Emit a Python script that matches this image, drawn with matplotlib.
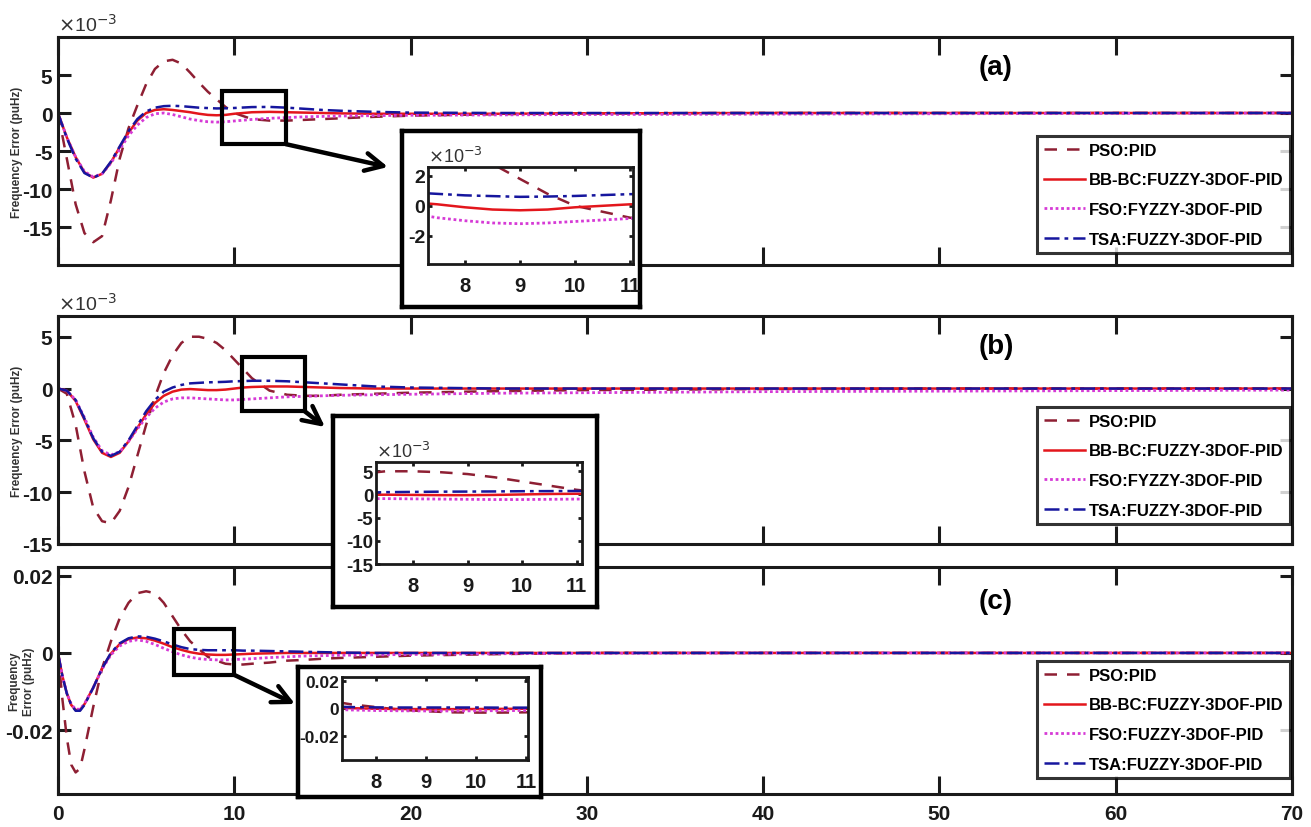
import numpy as np
import matplotlib
matplotlib.use('Agg')
import matplotlib.pyplot as plt
from matplotlib.patches import Rectangle

W, H = 1311, 828

# ---------------- data ----------------
t_a = [0, 0.5, 1, 1.5, 2, 2.5, 3, 3.5, 4, 4.5, 5, 5.5, 6, 6.5, 7, 7.5, 8, 8.5, 9, 9.5,
       10, 10.5, 11, 12, 13, 14, 15, 16, 18, 20, 25, 30, 40, 50, 60, 70]
pso_a = [0, -6, -12, -15.8, -17, -16.2, -11.5, -6, -2, 1, 3.8, 5.8, 6.8, 7, 6.5, 5.3, 4, 2.8, 1.8, 0.8,
         0, -0.4, -0.8, -1, -1, -0.9, -0.8, -0.7, -0.5, -0.35, -0.15, -0.05, 0, 0, 0, 0]
bbbc_a = [0, -3.2, -5.8, -7.8, -8.5, -8, -6.5, -4.5, -2.6, -1, 0, 0.4, 0.5, 0.4, 0.25, 0.1, -0.1, -0.25, -0.3, -0.25,
          -0.1, 0, 0.1, 0.15, 0.1, 0.05, 0, -0.05, -0.1, -0.1, -0.1, -0.05, 0, 0, 0, 0]
fso_a = [0, -3.2, -5.8, -7.7, -8.4, -8, -6.6, -4.8, -3, -1.6, -0.6, -0.1, 0, -0.2, -0.5, -0.8, -1, -1.15, -1.2, -1.15,
         -1.05, -0.95, -0.85, -0.7, -0.6, -0.5, -0.45, -0.4, -0.35, -0.3, -0.25, -0.2, -0.15, -0.1, -0.05, 0]
tsa_a = [0, -3.3, -6, -7.9, -8.5, -8, -6.4, -4.4, -2.4, -0.8, 0.2, 0.7, 0.9, 0.95, 0.9, 0.8, 0.7, 0.65, 0.6, 0.62,
         0.66, 0.72, 0.78, 0.8, 0.7, 0.55, 0.4, 0.3, 0.15, 0.05, 0, 0, 0, 0, 0, 0]

t_b = t_a
pso_b = [0, -0.5, -3.5, -8, -11.5, -12.8, -13, -11.8, -9.5, -6.5, -3.5, -0.8, 1.5, 3.2, 4.4, 5, 5, 4.8, 4.4, 3.7,
         2.8, 1.9, 1, -0.2, -0.6, -0.7, -0.7, -0.6, -0.5, -0.4, -0.25, -0.15, -0.05, 0, 0, 0]
bbbc_b = [0, -0.2, -1.2, -3, -4.9, -6.2, -6.6, -6.2, -5.1, -3.8, -2.5, -1.4, -0.7, -0.3, -0.1, -0.05, -0.1, -0.15, -0.15, -0.1,
          0, 0.1, 0.15, 0.2, 0.2, 0.15, 0.1, 0.05, 0, 0, 0, 0, 0, 0, 0, 0]
fso_b = [0, -0.2, -1.1, -2.8, -4.7, -6, -6.4, -6.1, -5.1, -3.9, -2.8, -1.9, -1.3, -1, -0.9, -0.9, -0.95, -1, -1.05, -1.1,
         -1.1, -1.05, -1, -0.9, -0.8, -0.75, -0.7, -0.65, -0.6, -0.55, -0.45, -0.4, -0.3, -0.25, -0.2, -0.15]
tsa_b = [0, -0.2, -1.1, -2.9, -4.8, -6.1, -6.5, -6.1, -5, -3.6, -2.2, -1.1, -0.3, 0.1, 0.35, 0.5, 0.55, 0.6, 0.62, 0.65,
         0.7, 0.72, 0.75, 0.75, 0.7, 0.6, 0.5, 0.4, 0.2, 0.1, 0, 0, 0, 0, 0, 0]

t_c = [0, 0.25, 0.5, 0.75, 1, 1.25, 1.5, 2, 2.5, 3, 3.5, 4, 4.5, 5, 5.5, 6, 6.5, 7, 7.5, 8, 8.5, 9, 9.5,
       10, 10.5, 11, 12, 13, 14, 15, 16, 18, 20, 25, 30, 40, 50, 60, 70]
pso_c = [0, -0.012, -0.022, -0.029, -0.031, -0.030, -0.025, -0.014, -0.004, 0.003, 0.009, 0.013, 0.0155, 0.016,
         0.0155, 0.013, 0.0095, 0.006, 0.003, 0.001, -0.001, -0.002, -0.0028, -0.003, -0.003, -0.0028, -0.0025,
         -0.002, -0.0018, -0.0015, -0.0013, -0.001, -0.0007, -0.0003, 0, 0, 0, 0, 0]
bbbc_c = [0, -0.006, -0.0105, -0.0135, -0.0148, -0.0148, -0.0133, -0.009, -0.004, -0.0002, 0.0023, 0.0036, 0.004,
          0.0038, 0.0032, 0.0024, 0.0015, 0.0008, 0.0002, -0.0002, -0.0004, -0.0005, -0.0005, -0.0004, -0.0003,
          -0.0002, -0.0001, 0, 0, 0, 0, 0, 0, 0, 0, 0, 0, 0, 0]
fso_c = [0, -0.006, -0.0104, -0.0133, -0.0146, -0.0146, -0.0132, -0.009, -0.0042, -0.0005, 0.0018, 0.003, 0.0034,
         0.003, 0.0022, 0.0012, 0.0003, -0.0005, -0.0011, -0.0015, -0.0017, -0.0018, -0.0018, -0.0017, -0.0016,
         -0.0015, -0.0012, -0.001, -0.0008, -0.0007, -0.0006, -0.0005, -0.0004, -0.0002, -0.0001, 0, 0, 0, 0]
tsa_c = [0, -0.006, -0.0105, -0.0135, -0.015, -0.015, -0.0135, -0.009, -0.004, 0, 0.0025, 0.0038, 0.0043, 0.0042,
         0.0037, 0.003, 0.0022, 0.0015, 0.001, 0.0008, 0.0007, 0.0007, 0.0007, 0.0007, 0.0006, 0.0006, 0.0005,
         0.0004, 0.0003, 0.0002, 0.0001, 0, 0, 0, 0, 0, 0, 0, 0]

labels_ab = ["PSO:PID", "BB-BC:FUZZY-3DOF-PID", "FSO:FYZZY-3DOF-PID", "TSA:FUZZY-3DOF-PID"]
labels_c = ["PSO:PID", "BB-BC:FUZZY-3DOF-PID", "FSO:FUZZY-3DOF-PID", "TSA:FUZZY-3DOF-PID"]
xticks_main = [0, 10, 20, 30, 40, 50, 60, 70]
yticks_ab = [-15, -10, -5, 0, 5]
yticks_c = [-0.02, 0, 0.02]
inset_xticks = [8, 9, 10, 11]

# ---------------- styles ----------------
NARROW = ['Liberation Sans Narrow', 'Liberation Sans', 'DejaVu Sans']
plt.rcParams['font.family'] = NARROW
styles = [
    dict(color='#8e1f33', ls=(0, (5, 4)), lw=1.8),
    dict(color='#e3161c', ls='-', lw=1.8),
    dict(color='#d63ad6', ls=(0, (1, 1)), lw=2.0),
    dict(color='#16169e', ls=(0, (6, 2, 1.5, 2)), lw=1.8),
]


def frect(l, t, r, b):
    return [l / W, 1 - b / H, (r - l) / W, (b - t) / H]


fig = plt.figure(figsize=(W / 100, H / 100), dpi=100)


def style_axes(ax, xlen=13, ylen=9, lw=2.2, fs=15, yfs=None):
    for s in ax.spines.values():
        s.set_linewidth(lw)
        s.set_color('#1a1a1a')
    ax.tick_params(axis='x', direction='in', top=True, bottom=True, length=xlen, width=lw, labelsize=fs,
                   pad=7, colors='#1a1a1a')
    ax.tick_params(axis='y', direction='in', left=True, right=True, length=ylen, width=lw,
                   labelsize=yfs if yfs else fs, pad=4, colors='#1a1a1a')
    for lab in ax.get_xticklabels() + ax.get_yticklabels():
        lab.set_fontweight('bold')


def plot_series(ax, t, series, scale):
    lines = []
    for y, st in zip(series, styles):
        ln, = ax.plot(t, np.asarray(y) * scale, **st)
        lines.append(ln)
    return lines


# main panels
panels = [
    dict(rect=frect(58, 38, 1292, 266), t=t_a, s=[pso_a, bbbc_a, fso_a, tsa_a], scale=1e-3,
         ylim=(-20e-3, 10e-3), yt=yticks_ab, lab=labels_ab, tag='(a)', leg=(1037, 137),
         zr=(9.3, 12.93, -4.1e-3, 2.9e-3), arrow_end=(388, 168), ylabel="Frequency Error (puHz)"),
    dict(rect=frect(58, 317, 1292, 545), t=t_b, s=[pso_b, bbbc_b, fso_b, tsa_b], scale=1e-3,
         ylim=(-15e-3, 7e-3), yt=yticks_ab, lab=labels_ab, tag='(b)', leg=(1037, 408),
         zr=(10.45, 14.0, -2.2e-3, 3.0e-3), arrow_end=(325, 428), ylabel="Frequency Error (puHz)"),
    dict(rect=frect(58, 568, 1292, 795), t=t_c, s=[pso_c, bbbc_c, fso_c, tsa_c], scale=1.0,
         ylim=(-0.0366, 0.0223), yt=yticks_c, lab=labels_c, tag='(c)', leg=(1037, 662),
         zr=(6.6, 10.0, -0.0057, 0.0062), arrow_end=(295, 705), ylabel="Frequency\nError (puHz)"),
]

main_axes = []
for i, p in enumerate(panels):
    ax = fig.add_axes(p['rect'])
    lines = plot_series(ax, p['t'], p['s'], p['scale'])
    ax.set_xlim(0, 70)
    ax.set_ylim(*p['ylim'])
    ax.set_xticks(xticks_main)
    if i < 2:
        ax.set_yticks([v * 1e-3 for v in p['yt']])
        ax.set_yticklabels([str(v) for v in p['yt']])
        ax.text(0.0, 1.01, r'$\times$10$^{-3}$', transform=ax.transAxes, fontsize=14,
                ha='left', va='bottom', color='#333333', family='Liberation Sans')
        ax.set_xticklabels([])
    else:
        ax.set_yticks(p['yt'])
        ax.set_yticklabels(['-0.02', '0', '0.02'])
        ax.set_xticklabels([str(v) for v in xticks_main])
    style_axes(ax)
    ax.text(0.76, 0.87 if i < 2 else 0.85, p['tag'], transform=ax.transAxes, fontsize=20,
            fontweight='bold', ha='center', va='center', family='Liberation Sans')
    ax.set_ylabel(p['ylabel'], fontsize=8.5, fontweight='bold', family='Liberation Sans',
                  color='#333333', labelpad=2, linespacing=1.3)
    ax.yaxis.set_label_coords(-0.028 if i < 2 else -0.019, 0.5)
    leg = ax.legend(lines, p['lab'], loc='upper left',
                    bbox_to_anchor=(p['leg'][0] / W, 1 - p['leg'][1] / H),
                    bbox_transform=fig.transFigure, fontsize=12, frameon=True, fancybox=False,
                    borderpad=0.4, labelspacing=0.88, handlelength=2.5, handletextpad=0.2,
                    borderaxespad=0)
    leg.get_frame().set_edgecolor('black')
    leg.get_frame().set_linewidth(2.2)
    for txt in leg.get_texts():
        txt.set_fontweight('bold')
    x0, x1, y0, y1 = p['zr']
    ax.add_patch(Rectangle((x0, y0), x1 - x0, y1 - y0, fill=False, lw=3, ec='black', zorder=5))
    ax.annotate('', xy=(p['arrow_end'][0] / W, 1 - p['arrow_end'][1] / H), xycoords='figure fraction',
                xytext=(x1, y0), textcoords='data',
                arrowprops=dict(arrowstyle='->', lw=3.2, color='black', mutation_scale=32,
                                shrinkA=0, shrinkB=0), annotation_clip=False, zorder=6)
    main_axes.append(ax)

# insets
insets = [
    dict(box=(402, 132, 640, 308), ax=(428, 168, 633, 265), xlim=(7.33, 11.05), ylim=(-3.9e-3, 2.6e-3),
         yt=[-2e-3, 0, 2e-3], ytl=['-2', '0', '2'], exp=True, p=0, yfs=14),
    dict(box=(333, 417, 597, 608), ax=(376, 463, 582, 565), xlim=(7.32, 11.1), ylim=(-15e-3, 7e-3),
         yt=[-15e-3, -10e-3, -5e-3, 0, 5e-3], ytl=['-15', '-10', '-5', '0', '5'], exp=True, p=1, yfs=13.5),
    dict(box=(298, 668, 541, 798), ax=(342, 678, 528, 761), xlim=(7.32, 11.04), ylim=(-0.0375, 0.0229),
         yt=[-0.02, 0, 0.02], ytl=['-0.02', '0', '0.02'], exp=False, p=2, yfs=12.5),
]

for ins in insets:
    b = ins['box']
    bx = fig.add_axes(frect(*b))
    bx.set_xticks([])
    bx.set_yticks([])
    bx.set_facecolor('white')
    for s in bx.spines.values():
        s.set_linewidth(3.2)
        s.set_color('black')
    p = panels[ins['p']]
    ia = fig.add_axes(frect(*ins['ax']))
    plot_series(ia, p['t'], p['s'], p['scale'])
    ia.set_xlim(*ins['xlim'])
    ia.set_ylim(*ins['ylim'])
    ia.set_xticks(inset_xticks)
    ia.set_xticklabels([str(v) for v in inset_xticks])
    ia.set_yticks(ins['yt'])
    ia.set_yticklabels(ins['ytl'])
    style_axes(ia, xlen=3, ylen=3, lw=2.0, fs=14.5, yfs=ins['yfs'])
    ia.tick_params(axis='x', pad=9)
    ia.tick_params(axis='y', pad=2)
    if ins['exp']:
        ia.text(0.0, 1.01, r'$\times$10$^{-3}$', transform=ia.transAxes, fontsize=13,
                ha='left', va='bottom', color='#333333', family='Liberation Sans')

fig.savefig('out.png', dpi=100)
